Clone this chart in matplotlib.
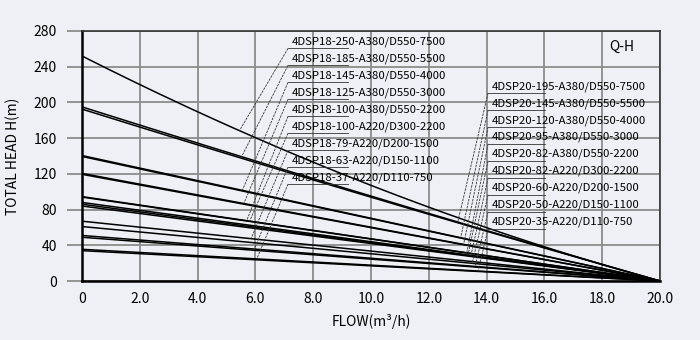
import numpy as np
import matplotlib
matplotlib.use("Agg")
import matplotlib.pyplot as plt

plt.rcParams['font.family'] = ['Noto Sans CJK SC', 'DejaVu Sans']

# pump models and their shut-off head (m) at zero flow, all curves end at 20 m3/h
models18 = ["4DSP18-250-A380/D550-7500", "4DSP18-185-A380/D550-5500",
            "4DSP18-145-A380/D550-4000", "4DSP18-125-A380/D550-3000",
            "4DSP18-100-A380/D550-2200", "4DSP18-100-A220/D300-2200",
            "4DSP18-79-A220/D200-1500", "4DSP18-63-A220/D150-1100",
            "4DSP18-37-A220/D110-750"]
head18 = [252, 192.5, 140.5, 120.5, 94.5, 94, 67, 49, 35.5]
bend18 = [0.3, 0.05, 0, 0, 0, 0, 0, 0, 0]

models20 = ["4DSP20-195-A380/D550-7500", "4DSP20-145-A380/D550-5500",
            "4DSP20-120-A380/D550-4000", "4DSP20-95-A380/D550-3000",
            "4DSP20-82-A380/D550-2200", "4DSP20-82-A220/D300-2200",
            "4DSP20-60-A220/D200-1500", "4DSP20-50-A220/D150-1100",
            "4DSP20-35-A220/D110-750"]
head20 = [195, 139.5, 119.5, 88, 86, 84, 61, 51, 34]
bend20 = [0.05, 0, 0, 0, 0, 0, 0, 0, 0]

q_max = 20.0
xticks = [0, 2, 4, 6, 8, 10, 12, 14, 16, 18, 20]
xticklabels = ["0", "2.0", "4.0", "6.0", "8.0", "10.0", "12.0", "14.0", "16.0", "18.0", "20.0"]
yticks = [0, 40, 80, 120, 160, 200, 240, 280]


def curve(h0, c, q):
    t = q / q_max
    return h0 * (1 - t) * (1 - c * t)


bg = "#eef0f5"
fig = plt.figure(figsize=(7, 3.4), dpi=100, facecolor=bg)
ax = fig.add_axes([0.117, 0.1735, 0.826, 0.7355])
ax.set_facecolor(bg)

q = np.linspace(0, q_max, 200)
for h0, c in zip(head18 + head20, bend18 + bend20):
    ax.plot(q, curve(h0, c, q), color="black", lw=1.1, zorder=3)

# labels with underline and leader line
def label_group(names, heads, bends, x0, y0, ul_len, targets):
    for i, (name, h0, c, xt) in enumerate(zip(names, heads, bends, targets)):
        y = y0 - 19 * i
        ax.text(x0 + 0.14, y, name, fontsize=8.2, va="center", ha="left", zorder=4)
        yu = y - 7.5
        ax.plot([x0, x0 + ul_len], [yu, yu], color="#333333", lw=0.6, zorder=4)
        ax.plot([x0, xt], [yu, curve(h0, c, xt)], color="#333333", lw=0.6,
                dashes=(3, 1.2), zorder=4)


label_group(models18, head18, bend18, 7.13, 268, 2.07,
            [5.45, 5.5, 5.55, 5.6, 5.7, 5.8, 5.85, 5.95, 6.05])
label_group(models20, head20, bend20, 14.05, 218, 1.97,
            [13.0, 13.1, 13.2, 13.3, 13.35, 13.45, 13.5, 13.6, 13.7])

ax.text(0.955, 0.935, "Q-H", transform=ax.transAxes, fontsize=10,
        ha="right", va="center")

ax.set_xlim(0, 20)
ax.set_ylim(0, 280)
ax.set_xticks(xticks)
ax.set_xticklabels(xticklabels)
ax.set_yticks(yticks)
ax.grid(True, color="#8c8c8c", lw=1.3, zorder=1)
ax.tick_params(axis="y", length=11, width=1.3, color="#8c8c8c", pad=7, labelsize=10)
ax.tick_params(axis="x", length=0, pad=8, labelsize=10)
for s in ["left", "bottom"]:
    ax.spines[s].set_linewidth(1.8)
    ax.spines[s].set_color("black")
for s in ["top", "right"]:
    ax.spines[s].set_linewidth(1.2)
    ax.spines[s].set_color("#333333")

ax.set_xlabel("FLOW(m³/h)", fontsize=10, labelpad=6)
ax.set_ylabel("TOTAL HEAD H(m)", fontsize=10, labelpad=10)

fig.savefig("out.png", dpi=100, facecolor=bg)
